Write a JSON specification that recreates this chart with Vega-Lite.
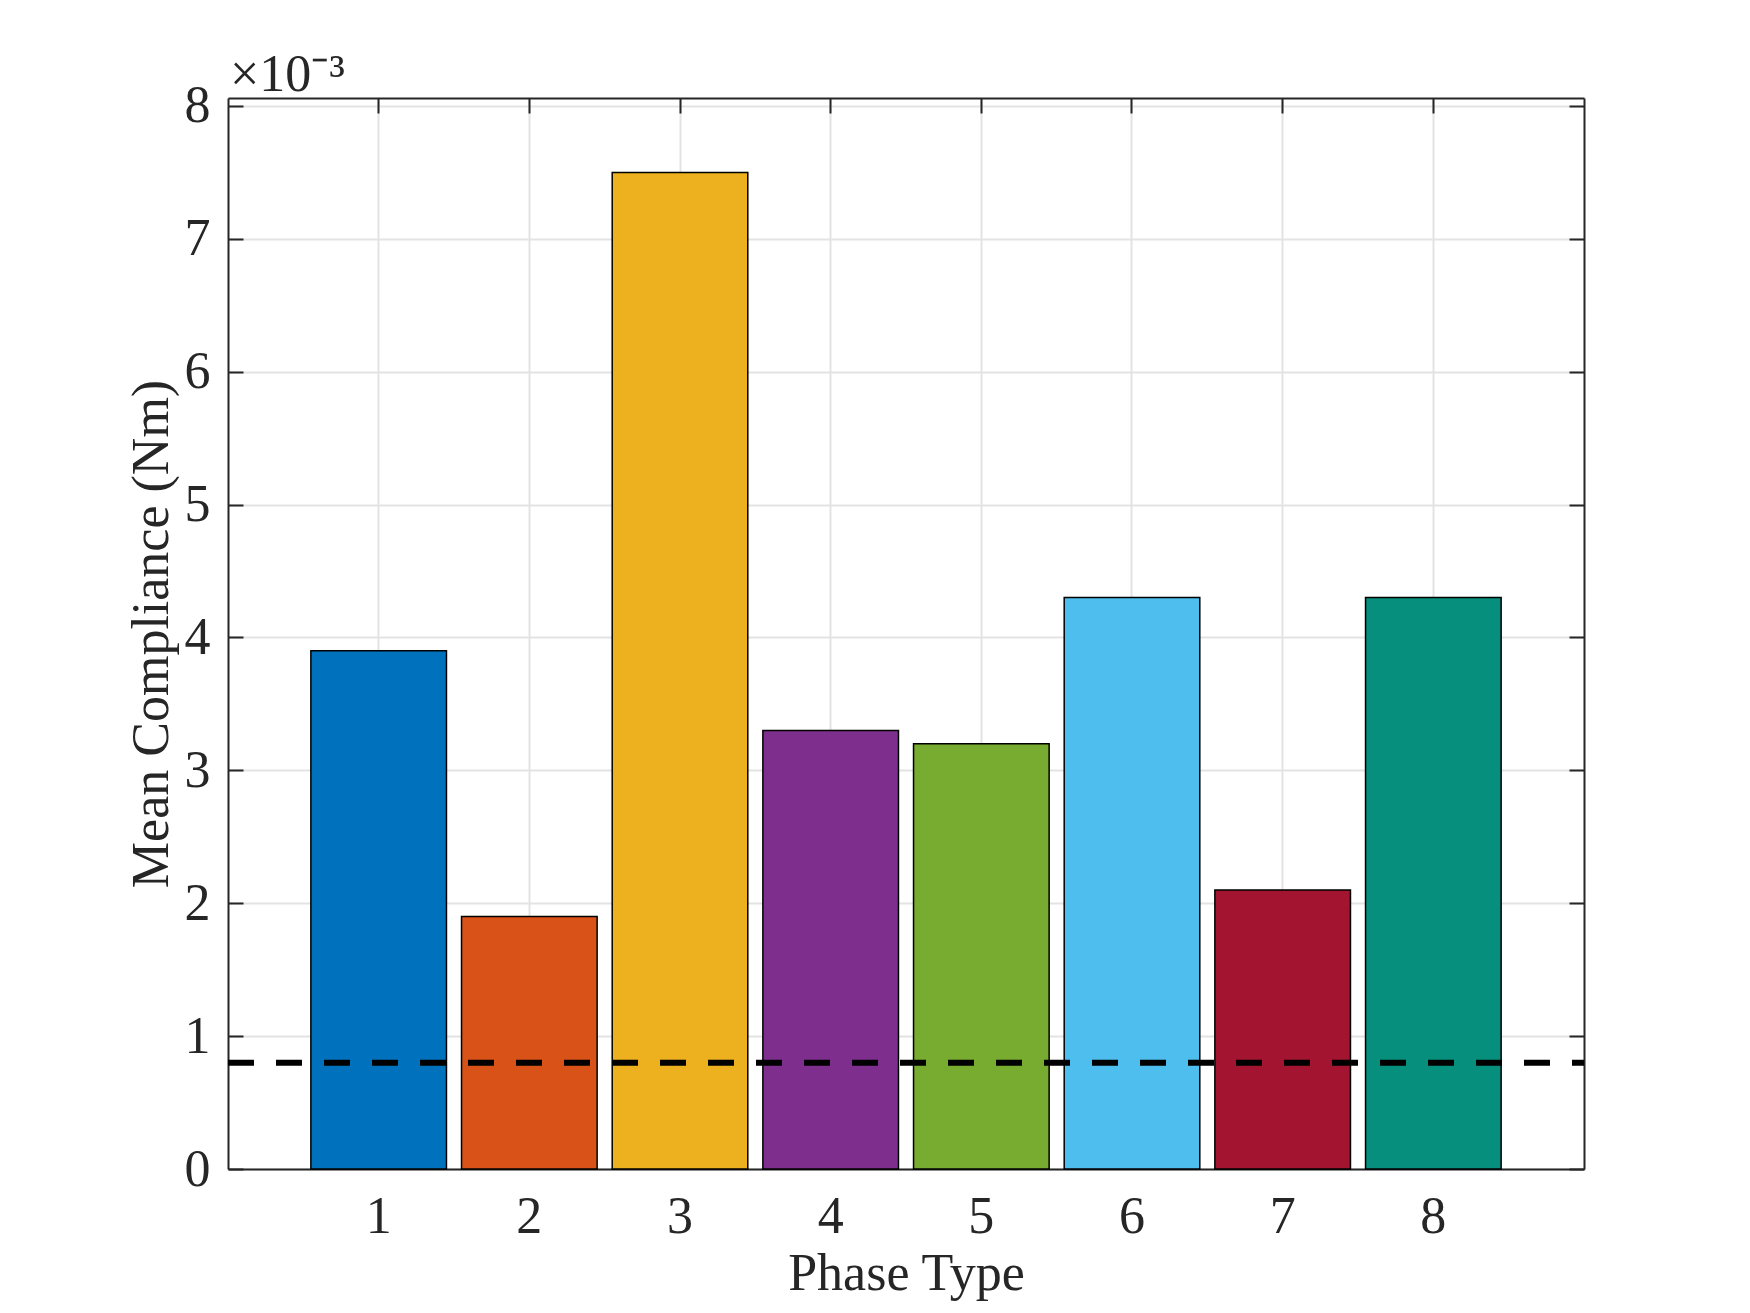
{
  "$schema": "https://vega.github.io/schema/vega-lite/v6.json",
  "width": 1356,
  "height": 1071,
  "autosize": {"type": "none"},
  "padding": {"left": 228, "top": 98, "right": 166, "bottom": 144},
  "background": "white",
  "config": {"font": "Liberation Serif", "view": {"stroke": null}},
  "title": {"text": "×10⁻³", "anchor": "start", "frame": "group", "fontSize": 52, "font": "Liberation Serif", "fontWeight": "normal", "color": "#262626", "offset": -22, "dx": 2},
  "datasets": {
    "bars": [
      {"phase": 1, "compliance": 0.0039},
      {"phase": 2, "compliance": 0.0019},
      {"phase": 3, "compliance": 0.0075},
      {"phase": 4, "compliance": 0.0033},
      {"phase": 5, "compliance": 0.0032},
      {"phase": 6, "compliance": 0.0043},
      {"phase": 7, "compliance": 0.0021},
      {"phase": 8, "compliance": 0.0043}
    ],
    "threshold": [{"threshold": 0.0008}]
  },
  "layer": [
    {
      "data": {"name": "bars"},
      "mark": {"type": "bar", "stroke": "#000000", "strokeWidth": 1.5},
      "encoding": {
        "x": {
          "field": "phase", "type": "ordinal",
          "scale": {"paddingInner": 0.1, "paddingOuter": 0.55},
          "axis": {
            "orient": "bottom", "title": "Phase Type", "labelAngle": 0, "bandPosition": 0.5,
            "grid": true, "gridColor": "#e3e3e3", "gridWidth": 2,
            "domainColor": "#262626", "domainWidth": 2,
            "tickColor": "#262626", "tickWidth": 2, "tickSize": -15,
            "labelFontSize": 52, "labelColor": "#262626", "labelPadding": 37,
            "titleFontSize": 52, "titleFontWeight": "normal", "titleColor": "#262626", "titlePadding": 6
          }
        },
        "y": {
          "field": "compliance", "type": "quantitative",
          "scale": {"domain": [0, 0.00806], "nice": false, "zero": true},
          "axis": {
            "orient": "left", "title": "Mean Compliance (Nm)",
            "values": [0, 0.001, 0.002, 0.003, 0.004, 0.005, 0.006, 0.007, 0.008],
            "labelExpr": "format(datum.value * 1000, 'd')",
            "grid": true, "gridColor": "#e3e3e3", "gridWidth": 2,
            "domainColor": "#262626", "domainWidth": 2,
            "tickColor": "#262626", "tickWidth": 2, "tickSize": -15,
            "labelFontSize": 52, "labelColor": "#262626", "labelPadding": 33,
            "titleFontSize": 52, "titleFontWeight": "normal", "titleColor": "#262626", "titlePadding": 6
          }
        },
        "color": {
          "field": "phase", "type": "nominal",
          "scale": {"domain": [1, 2, 3, 4, 5, 6, 7, 8], "range": ["#0072BD", "#D95319", "#EDB120", "#7E2F8E", "#77AC30", "#4DBEEE", "#A2142F", "#068F7D"]},
          "legend": null
        }
      }
    },
    {
      "data": {"name": "threshold"},
      "mark": {"type": "rule", "color": "#000000", "strokeWidth": 6, "strokeDash": [26, 22], "strokeDashOffset": 14},
      "encoding": {
        "y": {"field": "threshold", "type": "quantitative", "axis": null}
      }
    },
    {
      "data": {"name": "bars"},
      "mark": {"type": "bar", "opacity": 0},
      "encoding": {
        "x": {
          "field": "phase", "type": "ordinal",
          "axis": {
            "orient": "top", "title": null, "labels": false, "bandPosition": 0.5, "grid": false,
            "domainColor": "#262626", "domainWidth": 2,
            "tickColor": "#262626", "tickWidth": 2, "tickSize": -15
          }
        },
        "y": {
          "field": "compliance", "type": "quantitative",
          "axis": {
            "orient": "right", "title": null, "labels": false, "grid": false,
            "values": [0, 0.001, 0.002, 0.003, 0.004, 0.005, 0.006, 0.007, 0.008],
            "domainColor": "#262626", "domainWidth": 2,
            "tickColor": "#262626", "tickWidth": 2, "tickSize": -15
          }
        }
      }
    }
  ],
  "resolve": {"axis": {"x": "independent", "y": "independent"}}
}
